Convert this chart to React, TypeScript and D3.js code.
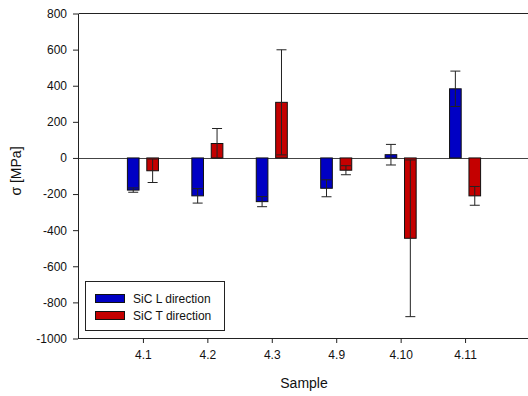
import React, { useEffect, useRef } from "react";
import * as d3 from "d3";

const samples = ["4.1", "4.2", "4.3", "4.9", "4.10", "4.11"];
const lValues = [-178, -210, -242, -168, 18, 383];
const lErrors = [12, 40, 28, 47, 57, 98];
const tValues = [-71, 80, 308, -68, -445, -210];
const tErrors = [65, 83, 291, 25, 434, 52];
const yTicks = [-1000, -800, -600, -400, -200, 0, 200, 400, 600, 800];
const seriesNames = ["SiC L direction", "SiC T direction"];
const seriesColors = ["#0000C4", "#C40000"];

export default function App() {
  const svgRef = useRef<SVGSVGElement>(null);

  useEffect(() => {
    document.body.style.margin = "0";
    document.body.style.overflow = "hidden";
    const width = 528;
    const height = 396;
    const left = 78.5, right = 529.5, top = 13.5, bottom = 338.5;
    const font = "Liberation Sans, Arial, sans-serif";

    const svg = d3.select(svgRef.current)
      .attr("width", width)
      .attr("height", height)
      .style("display", "block");
    svg.selectAll("*").remove();

    const x = d3.scaleLinear().domain([0, samples.length + 1]).range([left, right]);
    const y = d3.scaleLinear().domain([-1000, 800]).range([bottom, top]);
    const inner = d3.scaleBand()
      .domain(["L", "T"])
      .range([-19.4, 19.4])
      .paddingInner(0.4)
      .paddingOuter(0.2);

    // zero line
    svg.append("line")
      .attr("x1", left).attr("x2", width)
      .attr("y1", Math.round(y(0)) + 0.5).attr("y2", Math.round(y(0)) + 0.5)
      .attr("stroke", "#444");

    const series = [
      { key: "L", values: lValues, errors: lErrors, color: seriesColors[0] },
      { key: "T", values: tValues, errors: tErrors, color: seriesColors[1] },
    ];

    series.forEach(s => {
      const g = svg.append("g");
      const rows = samples.map((name, i) => ({ i, v: s.values[i], e: s.errors[i] }));
      g.selectAll("rect")
        .data(rows)
        .enter()
        .append("rect")
        .attr("x", d => x(d.i + 1) + (inner(s.key) as number))
        .attr("y", d => Math.min(y(d.v), y(0)))
        .attr("width", inner.bandwidth())
        .attr("height", d => Math.abs(y(d.v) - y(0)))
        .attr("fill", s.color)
        .attr("stroke", "#111")
        .attr("stroke-width", 1);

      // error bars
      const cx = (d: any) => x(d.i + 1) + (inner(s.key) as number) + inner.bandwidth() / 2;
      const cap = 5;
      g.selectAll("line.whisker")
        .data(rows)
        .enter()
        .append("line")
        .attr("x1", cx).attr("x2", cx)
        .attr("y1", d => y(d.v + d.e)).attr("y2", d => y(d.v - d.e))
        .attr("stroke", "#222");
      g.selectAll("line.capHi")
        .data(rows)
        .enter()
        .append("line")
        .attr("x1", d => cx(d) - cap).attr("x2", d => cx(d) + cap)
        .attr("y1", d => y(d.v + d.e)).attr("y2", d => y(d.v + d.e))
        .attr("stroke", "#222");
      g.selectAll("line.capLo")
        .data(rows)
        .enter()
        .append("line")
        .attr("x1", d => cx(d) - cap).attr("x2", d => cx(d) + cap)
        .attr("y1", d => y(d.v - d.e)).attr("y2", d => y(d.v - d.e))
        .attr("stroke", "#222");
    });

    // top frame line
    svg.append("line")
      .attr("x1", left).attr("x2", width).attr("y1", top).attr("y2", top)
      .attr("stroke", "#222");

    // y axis
    const yAxis = d3.axisLeft(y)
      .tickValues(yTicks)
      .tickFormat((d: any) => String(d))
      .tickSize(5)
      .tickPadding(6)
      .tickSizeOuter(0);
    const gy = svg.append("g")
      .attr("transform", `translate(${left - 0.5},0)`)
      .call(yAxis);
    gy.select(".domain").attr("stroke", "#222");
    gy.selectAll(".tick line").attr("stroke", "#222");
    gy.selectAll("text")
      .attr("font-family", font)
      .attr("font-size", 12)
      .attr("fill", "#111");

    // x axis
    const xAxis = d3.axisBottom(x)
      .tickValues(samples.map((_, i) => i + 1))
      .tickFormat((d: any) => samples[d - 1])
      .tickSize(5)
      .tickPadding(7)
      .tickSizeOuter(0);
    const gx = svg.append("g")
      .attr("transform", `translate(0,${bottom - 0.5})`)
      .call(xAxis);
    gx.select(".domain").attr("stroke", "#222");
    gx.selectAll(".tick line").attr("stroke", "#222");
    gx.selectAll("text")
      .attr("font-family", font)
      .attr("font-size", 12)
      .attr("fill", "#111");

    // axis titles
    svg.append("text")
      .attr("x", (left + right) / 2)
      .attr("y", 388)
      .attr("text-anchor", "middle")
      .attr("font-family", font)
      .attr("font-size", 14)
      .attr("fill", "#111")
      .text("Sample");

    svg.append("text")
      .attr("transform", `translate(21,171) rotate(-90)`)
      .attr("text-anchor", "middle")
      .attr("font-family", font)
      .attr("font-size", 14)
      .attr("fill", "#111")
      .text("σ [MPa]");

    // legend
    const lg = svg.append("g");
    lg.append("rect")
      .attr("x", 85.5).attr("y", 281.5)
      .attr("width", 139).attr("height", 49)
      .attr("fill", "#fff")
      .attr("stroke", "#222");
    seriesNames.forEach((name, i) => {
      lg.append("rect")
        .attr("x", 95.5).attr("y", 294.5 + i * 17)
        .attr("width", 29).attr("height", 8)
        .attr("fill", seriesColors[i])
        .attr("stroke", "#111");
      lg.append("text")
        .attr("x", 133)
        .attr("y", 302.5 + i * 17)
        .attr("font-family", font)
        .attr("font-size", 12)
        .attr("fill", "#111")
        .text(name);
    });
  }, []);

  return (
    <div>
      <svg ref={svgRef}></svg>
    </div>
  );
}
